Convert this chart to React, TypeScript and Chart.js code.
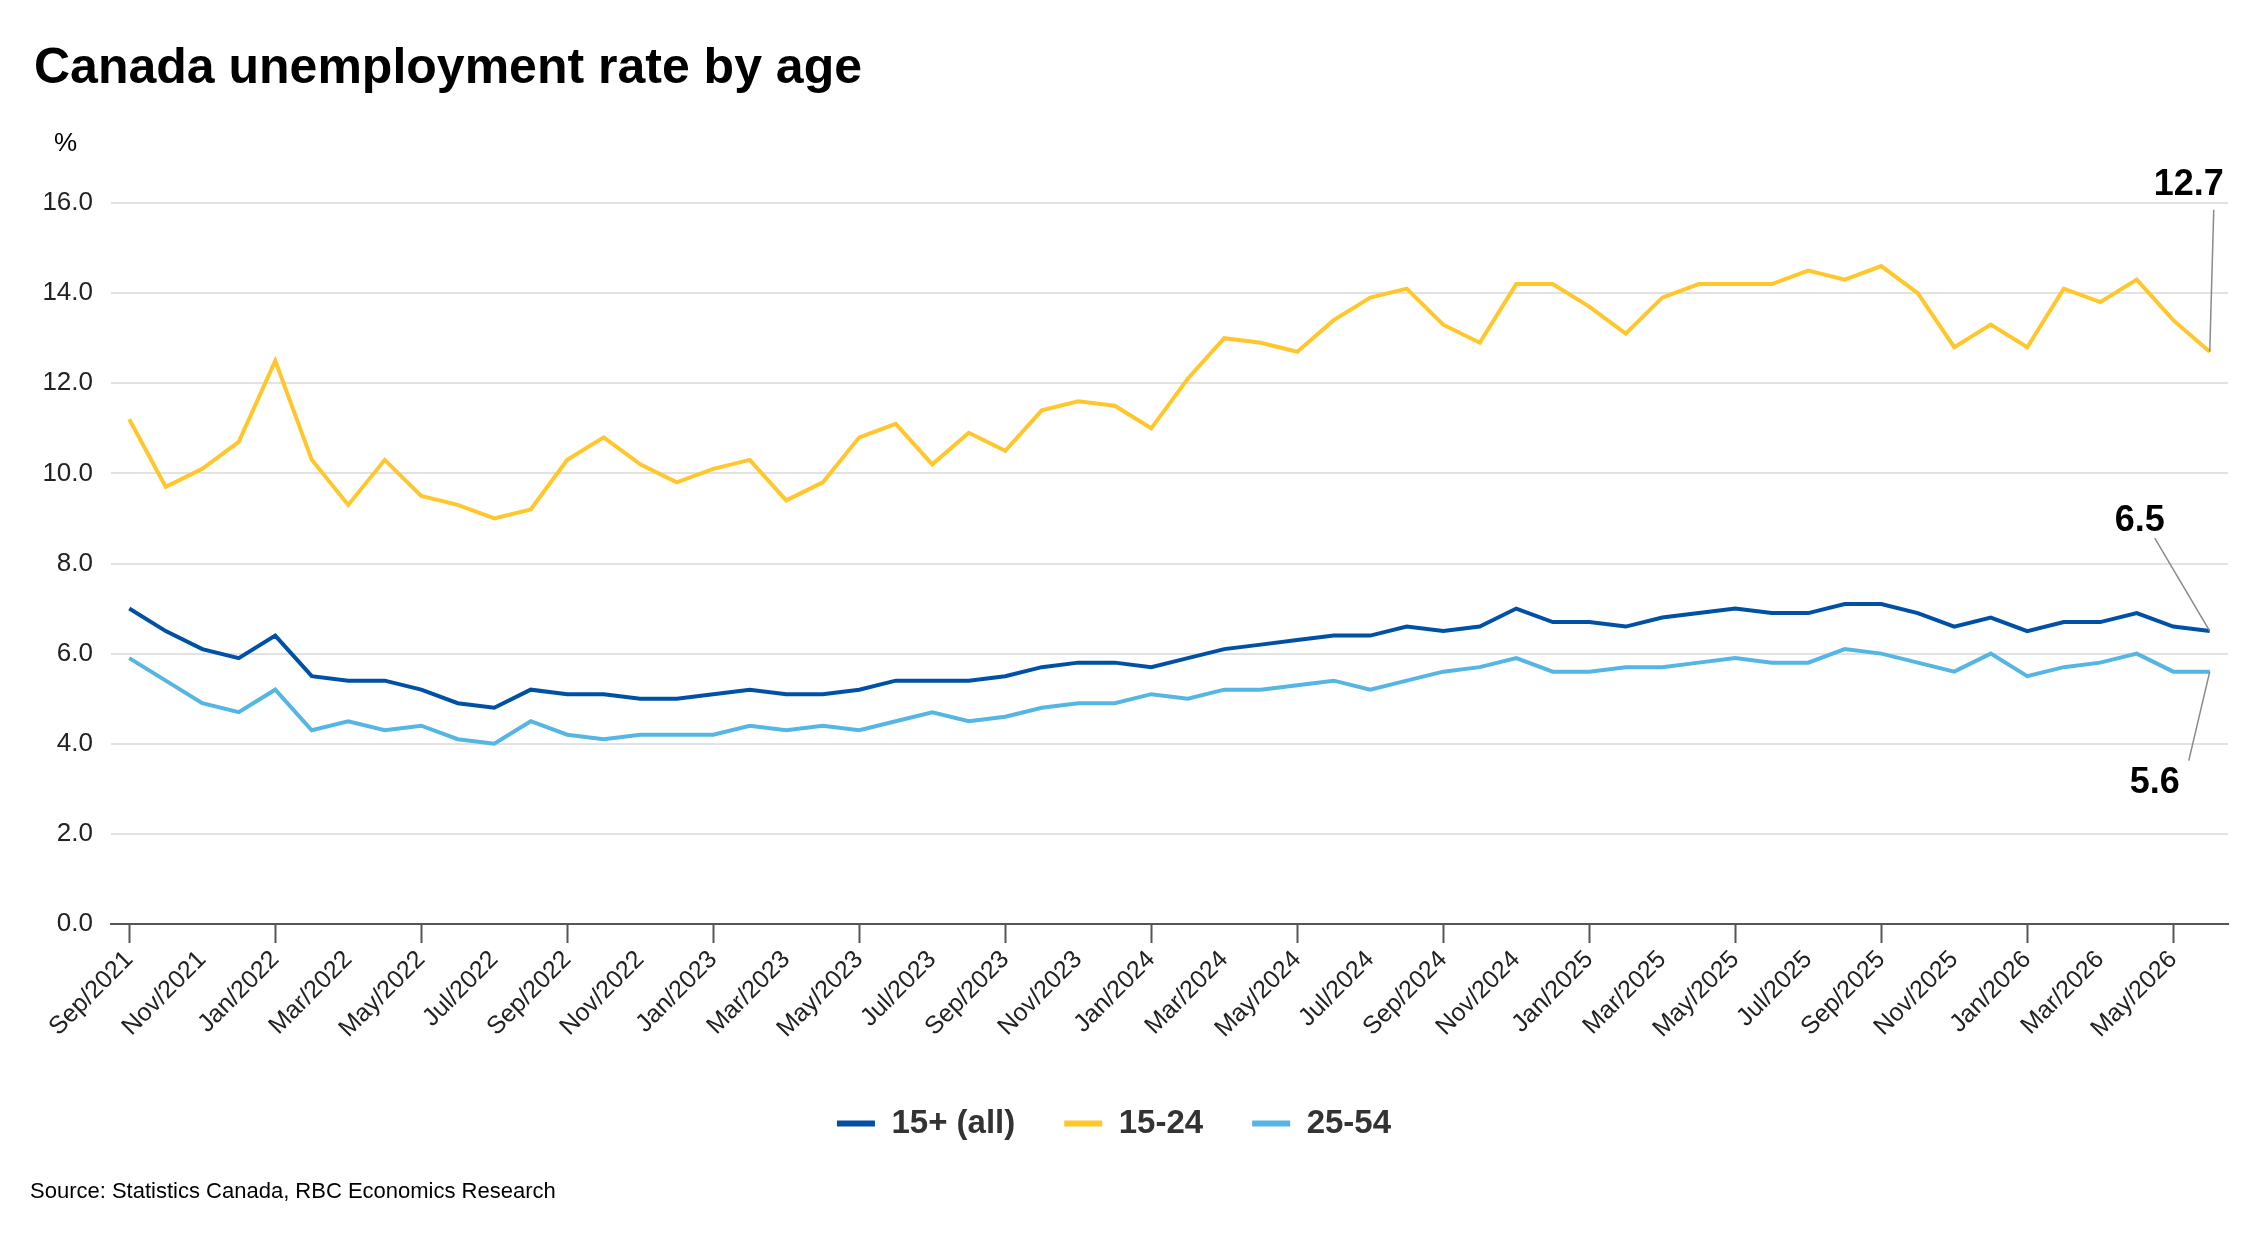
import { useEffect, useRef } from 'react';
import { Chart, registerables } from 'chart.js';

Chart.register(...registerables);

const FONT = "'Liberation Sans', Arial, Helvetica, sans-serif";

const title = 'Canada unemployment rate by age';
const source = 'Source: Statistics Canada, RBC Economics Research';

const months = [
  'Sep/2021', 'Oct/2021', 'Nov/2021', 'Dec/2021',
  'Jan/2022', 'Feb/2022', 'Mar/2022', 'Apr/2022', 'May/2022', 'Jun/2022',
  'Jul/2022', 'Aug/2022', 'Sep/2022', 'Oct/2022', 'Nov/2022', 'Dec/2022',
  'Jan/2023', 'Feb/2023', 'Mar/2023', 'Apr/2023', 'May/2023', 'Jun/2023',
  'Jul/2023', 'Aug/2023', 'Sep/2023', 'Oct/2023', 'Nov/2023', 'Dec/2023',
  'Jan/2024', 'Feb/2024', 'Mar/2024', 'Apr/2024', 'May/2024', 'Jun/2024',
  'Jul/2024', 'Aug/2024', 'Sep/2024', 'Oct/2024', 'Nov/2024', 'Dec/2024',
  'Jan/2025', 'Feb/2025', 'Mar/2025', 'Apr/2025', 'May/2025', 'Jun/2025',
  'Jul/2025', 'Aug/2025', 'Sep/2025', 'Oct/2025', 'Nov/2025', 'Dec/2025',
  'Jan/2026', 'Feb/2026', 'Mar/2026', 'Apr/2026', 'May/2026', 'Jun/2026',
];

const all15 = [
  7.0, 6.5, 6.1, 5.9, 6.4, 5.5, 5.4, 5.4, 5.2, 4.9, 4.8, 5.2, 5.1, 5.1, 5.0,
  5.0, 5.1, 5.2, 5.1, 5.1, 5.2, 5.4, 5.4, 5.4, 5.5, 5.7, 5.8, 5.8, 5.7, 5.9,
  6.1, 6.2, 6.3, 6.4, 6.4, 6.6, 6.5, 6.6, 7.0, 6.7, 6.7, 6.6, 6.8, 6.9, 7.0,
  6.9, 6.9, 7.1, 7.1, 6.9, 6.6, 6.8, 6.5, 6.7, 6.7, 6.9, 6.6, 6.5,
];

const youth = [
  11.2, 9.7, 10.1, 10.7, 12.5, 10.3, 9.3, 10.3, 9.5, 9.3, 9.0, 9.2, 10.3, 10.8, 10.2,
  9.8, 10.1, 10.3, 9.4, 9.8, 10.8, 11.1, 10.2, 10.9, 10.5, 11.4, 11.6, 11.5, 11.0, 12.1,
  13.0, 12.9, 12.7, 13.4, 13.9, 14.1, 13.3, 12.9, 14.2, 14.2, 13.7, 13.1, 13.9, 14.2, 14.2,
  14.2, 14.5, 14.3, 14.6, 14.0, 12.8, 13.3, 12.8, 14.1, 13.8, 14.3, 13.4, 12.7,
];

const core = [
  5.9, 5.4, 4.9, 4.7, 5.2, 4.3, 4.5, 4.3, 4.4, 4.1, 4.0, 4.5, 4.2, 4.1, 4.2,
  4.2, 4.2, 4.4, 4.3, 4.4, 4.3, 4.5, 4.7, 4.5, 4.6, 4.8, 4.9, 4.9, 5.1, 5.0,
  5.2, 5.2, 5.3, 5.4, 5.2, 5.4, 5.6, 5.7, 5.9, 5.6, 5.6, 5.7, 5.7, 5.8, 5.9,
  5.8, 5.8, 6.1, 6.0, 5.8, 5.6, 6.0, 5.5, 5.7, 5.8, 6.0, 5.6, 5.6,
];

// where the end-of-line value labels sit, relative to the last point
const callouts: Record<string, { lx: number; ly: number; tx: number; ty: number }> = {
  '15+ (all)': { lx: -55, ly: -93, tx: -70, ty: -100 },
  '15-24': { lx: 4, ly: -142, tx: -21, ty: -157 },
  '25-54': { lx: -21, ly: 89, tx: -55, ty: 121 },
};

const decorPlugin = {
  id: 'decor',
  afterDraw(chart: Chart) {
    const { ctx } = chart;
    ctx.save();
    ctx.fillStyle = '#000';
    ctx.textAlign = 'left';
    ctx.textBaseline = 'alphabetic';
    ctx.font = `bold 50px ${FONT}`;
    ctx.fillText(title, 34, 83);
    ctx.font = `26px ${FONT}`;
    ctx.fillText('%', 54, 151);
    ctx.font = `22px ${FONT}`;
    ctx.fillText(source, 30, 1198);
    ctx.restore();
  },
};

const calloutPlugin = {
  id: 'callouts',
  afterDatasetsDraw(chart: Chart) {
    const { ctx } = chart;
    chart.data.datasets.forEach((ds, i) => {
      const meta = chart.getDatasetMeta(i);
      const pt = meta.data[meta.data.length - 1];
      const off = callouts[ds.label as string];
      if (!pt || !off) return;
      const value = ds.data[ds.data.length - 1] as number;
      ctx.save();
      ctx.strokeStyle = '#8a8a8a';
      ctx.lineWidth = 1.5;
      ctx.beginPath();
      ctx.moveTo(pt.x, pt.y);
      ctx.lineTo(pt.x + off.lx, pt.y + off.ly);
      ctx.stroke();
      ctx.fillStyle = '#000';
      ctx.font = `bold 36px ${FONT}`;
      ctx.textAlign = 'center';
      ctx.textBaseline = 'alphabetic';
      ctx.fillText(value.toFixed(1), pt.x + off.tx, pt.y + off.ty);
      ctx.restore();
    });
  },
};

export default function App() {
  const chartRef = useRef<HTMLCanvasElement | null>(null);

  useEffect(() => {
    if (chartRef.current === null) return () => {};
    Chart.defaults.font.family = FONT;
    const aChart = new Chart(chartRef.current, {
      type: 'line',
      data: {
        labels: months,
        datasets: [
          {
            label: '15+ (all)',
            data: all15,
            borderColor: '#0051A5',
            backgroundColor: '#0051A5',
            borderWidth: 4,
            pointRadius: 0,
          },
          {
            label: '15-24',
            data: youth,
            borderColor: '#FFC72C',
            backgroundColor: '#FFC72C',
            borderWidth: 4,
            pointRadius: 0,
          },
          {
            label: '25-54',
            data: core,
            borderColor: '#55B6E4',
            backgroundColor: '#55B6E4',
            borderWidth: 4,
            pointRadius: 0,
          },
        ],
      },
      options: {
        animation: false,
        responsive: true,
        maintainAspectRatio: false,
        devicePixelRatio: 1,
        layout: {
          padding: { left: 0, right: 22, top: 203, bottom: 86 },
        },
        plugins: {
          title: { display: false },
          tooltip: { enabled: false },
          legend: {
            position: 'bottom',
            labels: {
              boxWidth: 38,
              boxHeight: 6,
              padding: 49,
              color: '#333',
              font: { size: 33, weight: 'bold' },
              generateLabels: (c: Chart) => Chart.defaults.plugins.legend.labels
                .generateLabels(c)
                .map((item) => ({ ...item, lineWidth: 0, fillStyle: item.strokeStyle })),
            },
          },
        },
        scales: {
          x: {
            offset: true,
            afterFit: (scale) => { scale.height = 134; },
            border: { display: true, color: '#555', width: 2 },
            grid: {
              offset: false,
              drawOnChartArea: false,
              drawTicks: true,
              tickLength: 19,
              tickWidth: 2,
              tickColor: (ctx) => (ctx.index % 2 === 0 ? '#555' : 'rgba(0,0,0,0)'),
            },
            ticks: {
              autoSkip: false,
              minRotation: 45,
              maxRotation: 45,
              padding: 2,
              color: '#222',
              font: { size: 25 },
              callback(value, index) {
                return index % 2 === 0 ? this.getLabelForValue(value as number) : null;
              },
            },
          },
          y: {
            min: 0,
            max: 16,
            afterFit: (scale) => { scale.width = 111; },
            border: { display: false },
            grid: {
              drawTicks: false,
              lineWidth: 2,
              color: (ctx) => (ctx.tick && ctx.tick.value === 0 ? 'rgba(0,0,0,0)' : '#e2e2e2'),
            },
            ticks: {
              stepSize: 2,
              padding: 18,
              color: '#222',
              font: { size: 26 },
              callback: (v) => Number(v).toFixed(1),
            },
          },
        },
      },
      plugins: [decorPlugin, calloutPlugin],
    });
    return () => {
      aChart.destroy();
    };
  }, []);

  return (
    <div style={{ position: 'fixed', left: 0, top: 0, width: 2250, height: 1236, background: '#fff' }}>
      <canvas ref={chartRef} />
    </div>
  );
}
